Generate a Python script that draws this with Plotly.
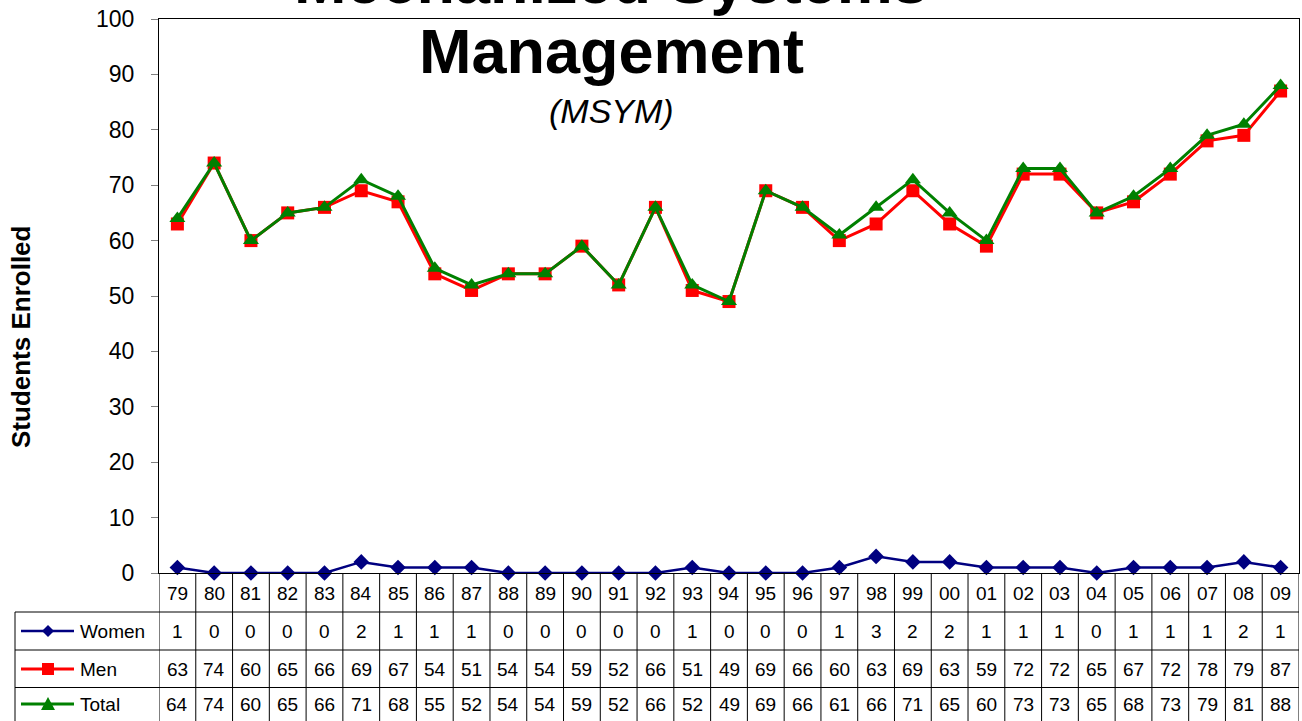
import plotly.graph_objects as go

# school years (two-digit)
years = ["79", "80", "81", "82", "83", "84", "85", "86", "87", "88", "89", "90", "91", "92", "93", "94",
         "95", "96", "97", "98", "99", "00", "01", "02", "03", "04", "05", "06", "07", "08", "09"]
women = [1, 0, 0, 0, 0, 2, 1, 1, 1, 0, 0, 0, 0, 0, 1, 0, 0, 0, 1, 3, 2, 2, 1, 1, 1, 0, 1, 1, 1, 2, 1]
men = [63, 74, 60, 65, 66, 69, 67, 54, 51, 54, 54, 59, 52, 66, 51, 49, 69, 66, 60, 63, 69, 63, 59, 72,
       72, 65, 67, 72, 78, 79, 87]
total = [64, 74, 60, 65, 66, 71, 68, 55, 52, 54, 54, 59, 52, 66, 52, 49, 69, 66, 61, 66, 71, 65, 60, 73,
         73, 65, 68, 73, 79, 81, 88]
y_ticks = [0, 10, 20, 30, 40, 50, 60, 70, 80, 90, 100]

FONT = "Liberation Sans, Arial, sans-serif"
NAVY, RED, GREEN = "#000080", "#FF0000", "#008000"

W, H = 1302, 721
L, R, T, B = 159, 3, 19, 148
PW, PH = W - L - R, H - T - B


def px_x(px):
    # pixel x -> paper fraction
    return (px - L) / PW


def px_y(py):
    # pixel y -> paper fraction
    return (H - B - py) / PH


series = [
    ("Women", women, NAVY, "diamond", 12, 2.5),
    ("Men", men, RED, "square", 13, 3),
    ("Total", total, GREEN, "triangle-up", 14, 3),
]

fig = go.Figure()
for name, vals, color, sym, size, lw in series:
    fig.add_trace(go.Scatter(
        x=years, y=vals, name=name, mode="lines+markers",
        line=dict(color=color, width=lw),
        marker=dict(symbol=sym, size=size, color=color),
        cliponaxis=False,
    ))

shapes = []
annotations = []

# table grid
row_lines = [612, 650, 687.5]
bottom = px_y(H + 2)
for i in range(len(years) + 1):
    shapes.append(dict(type="line", xref="x", yref="paper", x0=i - 0.5, x1=i - 0.5,
                       y0=0, y1=bottom, line=dict(color="black", width=1)))
for py in row_lines:
    shapes.append(dict(type="line", xref="paper", yref="paper", x0=px_x(15), x1=1,
                       y0=px_y(py), y1=px_y(py), line=dict(color="black", width=1)))
shapes.append(dict(type="line", xref="paper", yref="paper", x0=px_x(15), x1=px_x(15),
                   y0=px_y(612), y1=bottom, line=dict(color="black", width=1)))

cell_font = dict(family=FONT, size=19, color="black")

# year labels and values (x given as category index)
row_centers = [593, 631, 669, 704]
for i, yr in enumerate(years):
    annotations.append(dict(x=i, xref="x", y=px_y(row_centers[0]), yref="paper", text=yr,
                            xanchor="center", yanchor="middle", showarrow=False, font=cell_font))
for r, (name, vals, color, sym, size, lw) in enumerate(series):
    yc = px_y(row_centers[r + 1])
    for i, v in enumerate(vals):
        annotations.append(dict(x=i, xref="x", y=yc, yref="paper", text=str(v),
                                xanchor="center", yanchor="middle", showarrow=False, font=cell_font))
    # legend key in the left column
    shapes.append(dict(type="line", xref="paper", yref="paper", x0=px_x(21), x1=px_x(74),
                       y0=yc, y1=yc, line=dict(color=color, width=lw)))
    if sym == "diamond":
        path = "M -6 0 L 0 6 L 6 0 L 0 -6 Z"
    elif sym == "square":
        path = "M -6 -6 L 6 -6 L 6 6 L -6 6 Z"
    else:
        path = "M -7 -6 L 7 -6 L 0 7 Z"
    shapes.append(dict(type="path", xref="paper", yref="paper", xsizemode="pixel", ysizemode="pixel",
                       xanchor=px_x(48), yanchor=yc, path=path, fillcolor=color,
                       line=dict(color=color, width=0)))
    annotations.append(dict(x=px_x(78), xref="paper", y=yc, yref="paper", text=name,
                            xanchor="left", yanchor="middle", showarrow=False, font=cell_font))

# title (first line runs off the top of the picture)
annotations.append(dict(x=px_x(611), xref="paper", y=px_y(-19), yref="paper",
                        text="<b>Mechanized Systems</b>", showarrow=False,
                        xanchor="center", yanchor="middle",
                        font=dict(family=FONT, size=63, color="black")))
annotations.append(dict(x=px_x(611), xref="paper", y=px_y(51), yref="paper",
                        text="<b>Management</b>", showarrow=False,
                        xanchor="center", yanchor="middle",
                        font=dict(family=FONT, size=63, color="black")))
annotations.append(dict(x=px_x(611), xref="paper", y=px_y(111), yref="paper",
                        text="<i>(MSYM)</i>", showarrow=False,
                        xanchor="center", yanchor="middle",
                        font=dict(family=FONT, size=34, color="black")))
# y axis title
annotations.append(dict(x=px_x(21), xref="paper", y=px_y(337), yref="paper",
                        text="<b>Students Enrolled</b>", textangle=-90, showarrow=False,
                        xanchor="center", yanchor="middle",
                        font=dict(family=FONT, size=26, color="black")))

fig.update_layout(
    width=W, height=H,
    margin=dict(l=L, r=R, t=T, b=B),
    paper_bgcolor="white", plot_bgcolor="white",
    showlegend=False,
    shapes=shapes,
    annotations=annotations,
    font=dict(family=FONT, color="black"),
)
fig.update_xaxes(type="category", categoryorder="array", categoryarray=years,
                 range=[-0.5, len(years) - 0.5], showticklabels=False, ticks="",
                 showgrid=False, zeroline=False, showline=True, linecolor="black",
                 linewidth=1, mirror=True)
fig.update_yaxes(range=[0, 100], tickvals=y_ticks, ticks="outside", ticklen=7,
                 tickcolor="#808080", tickfont=dict(family=FONT, size=23, color="black"),
                 ticklabelstandoff=12,
                 showgrid=False, zeroline=False, showline=True, linecolor="black",
                 linewidth=1, mirror=True)

# drop the page's default body margin so the chart sits at the window corner
fig.write_html("out.html", config={"displayModeBar": False},
               post_script="document.body.style.margin='0';")
